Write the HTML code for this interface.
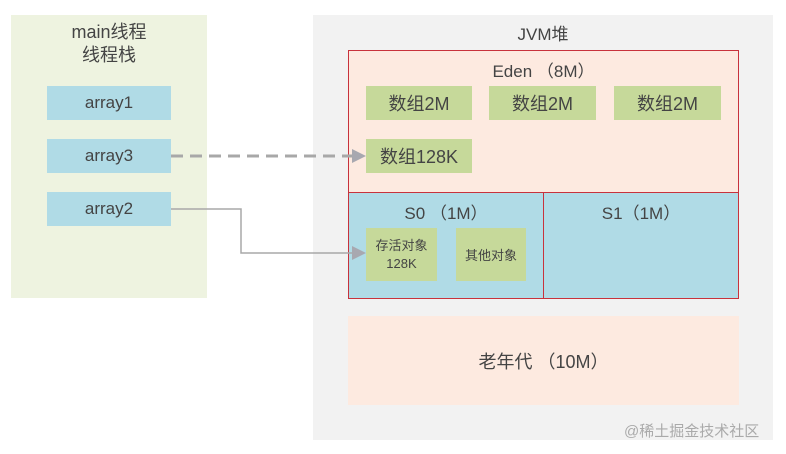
<!DOCTYPE html><html><head><meta charset="utf-8"><style>
body{margin:0;width:786px;height:454px;background:#fff;position:relative;font-family:"Liberation Sans","Noto Sans CJK SC",sans-serif;color:#444;overflow:hidden}
div{position:absolute;box-sizing:border-box}
.c{display:flex;align-items:center;justify-content:center;text-align:center}
.b{background:#b0dbe6;font-size:17px}
.g{background:#c6d99a;font-size:18px}
</style></head><body>
<div style="left:11px;top:15px;width:196px;height:283px;background:#eef3e0"></div>
<div style="left:11px;top:21px;width:196px;font-size:18px;text-align:center;line-height:23px">main线程<br>线程栈</div>
<div class="c b" style="left:47px;top:86px;width:124px;height:34px">array1</div>
<div class="c b" style="left:47px;top:139px;width:124px;height:34px">array3</div>
<div class="c b" style="left:47px;top:192px;width:124px;height:34px">array2</div>
<div style="left:313px;top:15px;width:460px;height:425px;background:#f2f2f2"></div>
<div class="c" style="left:313px;top:20px;width:460px;height:24px;font-size:17px">JVM堆</div>
<div style="left:348px;top:50px;width:391px;height:143px;background:#fdeae0;border:1px solid #c8323c"></div>
<div class="c" style="left:348px;top:58px;width:391px;height:22px;font-size:17px">Eden （8M）</div>
<div class="c g" style="left:366px;top:86px;width:106px;height:34px">数组2M</div>
<div class="c g" style="left:489px;top:86px;width:107px;height:34px">数组2M</div>
<div class="c g" style="left:614px;top:86px;width:107px;height:34px">数组2M</div>
<div class="c g" style="left:366px;top:139px;width:106px;height:34px">数组128K</div>
<div style="left:348px;top:192px;width:196px;height:107px;background:#b0dbe6;border:1px solid #c8323c"></div>
<div style="left:543px;top:192px;width:196px;height:107px;background:#b0dbe6;border:1px solid #c8323c"></div>
<div class="c" style="left:348px;top:200px;width:196px;height:22px;font-size:17px">S0 （1M）</div>
<div class="c" style="left:543px;top:200px;width:196px;height:22px;font-size:17px">S1（1M）</div>
<div class="c g" style="left:366px;top:228px;width:71px;height:53px;font-size:13px;line-height:18px">存活对象<br>128K</div>
<div class="c g" style="left:456px;top:228px;width:70px;height:53px;font-size:13px">其他对象</div>
<div class="c" style="left:348px;top:316px;width:391px;height:89px;background:#fdeae0;font-size:18px">老年代 （10M）</div>
<div style="left:624px;top:420px;width:155px;font-size:15px;color:#aaa">@稀土掘金技术社区</div>
<svg width="786" height="454" style="position:absolute;left:0;top:0">
<line x1="171" y1="156" x2="352" y2="156" stroke="#a8a8a8" stroke-width="3" stroke-dasharray="12,7"/>
<polygon points="352,149 366,156 352,163" fill="#a8a8b0"/>
<polyline points="171,209 241,209 241,253 352,253" fill="none" stroke="#a8a8a8" stroke-width="1.5"/>
<polygon points="352,246 366,253 352,260" fill="#a8a8b0"/>
</svg>
</body></html>
